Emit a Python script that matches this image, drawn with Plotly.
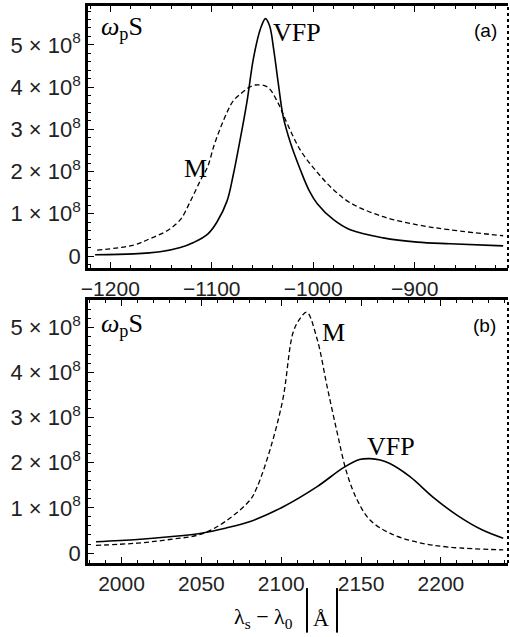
import plotly.graph_objects as go
from plotly.subplots import make_subplots

# ---- panel (a): spectra around -1000 A ----
a_vfp_x = [-1215, -1177, -1151, -1131, -1118, -1104, -1095, -1085, -1079, -1072,
           -1065, -1059, -1052, -1047, -1043, -1039, -1034.5, -1029.6, -1022.7,
           -1012.8, -1004, -996, -980, -963.5, -931, -897.5, -865, -812.8]
a_vfp_y = [0.03, 0.05, 0.10, 0.20, 0.32, 0.52, 0.80, 1.30, 1.90, 2.76,
           3.70, 4.67, 5.38, 5.62, 5.45, 4.90, 4.10, 3.30, 2.70,
           2.05, 1.55, 1.24, 0.86, 0.62, 0.43, 0.33, 0.29, 0.24]

a_m_x = [-1213, -1177, -1160, -1144, -1131, -1121, -1111, -1104, -1098, -1092,
         -1085, -1079, -1072, -1064, -1057, -1045, -1035, -1027.6, -1013, -996,
         -980, -963.5, -931, -897.5, -865, -812.8]
a_m_y = [0.14, 0.26, 0.42, 0.60, 0.86, 1.30, 1.80, 2.12, 2.60, 3.00,
         3.40, 3.67, 3.83, 3.98, 4.05, 4.00, 3.64, 3.24, 2.52, 1.98,
         1.57, 1.26, 0.93, 0.74, 0.62, 0.48]

# ---- panel (b): spectra around 2100 A ----
b_vfp_x = [1984, 2010, 2030, 2050, 2065, 2080.6, 2101, 2122.5, 2139, 2149,
           2155.6, 2162, 2168, 2180.6, 2195, 2210, 2226, 2239]
b_vfp_y = [0.25, 0.30, 0.36, 0.44, 0.55, 0.70, 1.02, 1.47, 1.89, 2.07,
           2.09, 2.06, 1.98, 1.69, 1.24, 0.84, 0.51, 0.33]

b_m_x = [1984, 2010, 2030, 2050, 2065, 2080.6, 2085, 2093, 2101, 2107.5,
         2112, 2116, 2122.5, 2128.7, 2135, 2141, 2147.5, 2155.6, 2168, 2185,
         2205.6, 2239]
b_m_y = [0.17, 0.22, 0.30, 0.42, 0.70, 1.18, 1.47, 2.29, 3.40, 4.89,
         5.20, 5.33, 4.73, 3.69, 2.67, 1.78, 1.18, 0.73, 0.44, 0.24,
         0.13, 0.07]

SCALE = 1e8
y_tickvals = [0, 1, 2, 3, 4, 5]
y_ticktext = ["0"] + [f"{v} \u00d7 10<sup>8</sup>" for v in y_tickvals[1:]]
a_xticks = [-1200, -1100, -1000, -900]
b_xticks = [2000, 2050, 2100, 2150, 2200]

SERIF = "Liberation Serif, Times New Roman, serif"
SANS = "Liberation Sans, Arial, sans-serif"

fig = make_subplots(rows=2, cols=1, vertical_spacing=0.0575)

solid = dict(color="black", width=1.6)
dashed = dict(color="black", width=1.3, dash="5px,3px")

def curve(x, y, line, row):
    fig.add_trace(go.Scatter(x=x, y=[v * SCALE for v in y], mode="lines",
                             line=dict(shape="spline", smoothing=1.0, **line),
                             showlegend=False, hoverinfo="skip"), row=row, col=1)

curve(a_m_x, a_m_y, dashed, 1)
curve(a_vfp_x, a_vfp_y, solid, 1)
curve(b_m_x, b_m_y, dashed, 2)
curve(b_vfp_x, b_vfp_y, solid, 2)

axis_common = dict(showgrid=False, zeroline=False, showline=True, linecolor="black",
                   linewidth=2.5, ticks="inside", tickcolor="black", tickwidth=1.2,
                   ticklen=6)

fig.update_xaxes(**axis_common, mirror="allticks",
                 tickfont=dict(family=SANS, size=21, color="#222"))
fig.update_yaxes(**axis_common, mirror=False,
                 tickfont=dict(family=SANS, size=22, color="#222"))

fig.update_xaxes(range=[-1222, -808], tickvals=a_xticks,
                 ticktext=[f"\u2212{abs(v)}" for v in a_xticks],
                 minor=dict(dtick=20, ticks="inside", ticklen=3, tickcolor="black"),
                 row=1, col=1)
fig.update_xaxes(range=[1979, 2242], tickvals=b_xticks,
                 ticktext=[str(v) for v in b_xticks],
                 minor=dict(dtick=10, ticks="inside", ticklen=3, tickcolor="black"),
                 row=2, col=1)
fig.update_yaxes(range=[-0.284 * SCALE, 5.92 * SCALE],
                 tickvals=[v * SCALE for v in y_tickvals], ticktext=y_ticktext,
                 minor=dict(dtick=0.2 * SCALE, ticks="inside", ticklen=3, tickcolor="black"),
                 row=1, col=1)
fig.update_yaxes(range=[-0.22 * SCALE, 5.6 * SCALE],
                 tickvals=[v * SCALE for v in y_tickvals], ticktext=y_ticktext,
                 minor=dict(dtick=0.2 * SCALE, ticks="inside", ticklen=3, tickcolor="black"),
                 row=2, col=1)

def label(text, x, y, xref, yref, size, family, xanchor="center"):
    fig.add_annotation(text=text, x=x, y=y, xref=xref, yref=yref, showarrow=False,
                       xanchor=xanchor, yanchor="middle",
                       font=dict(family=family, size=size, color="black"))

omega = "<i>\u03c9</i><sub>p</sub>S"
label(omega, -1211, 5.40 * SCALE, "x", "y", 26, SERIF, "left")
label("VFP", -1016, 5.30 * SCALE, "x", "y", 26, SERIF)
label("M", -1116, 2.08 * SCALE, "x", "y", 26, SERIF)
label("(a)", -830.5, 5.33 * SCALE, "x", "y", 19, SANS)

label(omega, 1986, 5.05 * SCALE, "x2", "y2", 26, SERIF, "left")
label("M", 2132.5, 4.89 * SCALE, "x2", "y2", 26, SERIF)
label("VFP", 2169, 2.35 * SCALE, "x2", "y2", 26, SERIF)
label("(b)", 2227.5, 5.03 * SCALE, "x2", "y2", 19, SANS)

# axis title below panel (b): lambda_s - lambda_0 |A|
label("\u03bb<sub>s</sub> \u2212 \u03bb<sub>0</sub>", 0.419, -0.099, "paper", "paper", 22, SERIF)
label("\u00c5", 0.555, -0.099, "paper", "paper", 22, SERIF)
for xp in (0.5214, 0.5929):
    fig.add_shape(type="line", xref="paper", yref="paper", x0=xp, x1=xp,
                  y0=-0.045, y1=-0.125, line=dict(color="black", width=2))

# dotted right edge of each frame
for xref, yref in (("x domain", "y domain"), ("x2 domain", "y2 domain")):
    fig.add_shape(type="line", xref=xref, yref=yref, x0=1, x1=1, y0=0, y1=1,
                  line=dict(color="black", width=2, dash="dot"))

fig.update_layout(width=510, height=637, margin=dict(l=88, r=2, t=6, b=74),
                  plot_bgcolor="white", paper_bgcolor="white")
fig.update_layout(yaxis=dict(domain=[0.5296, 1.0]), yaxis2=dict(domain=[0.0, 0.4722]))

fig.write_html("out.html")
